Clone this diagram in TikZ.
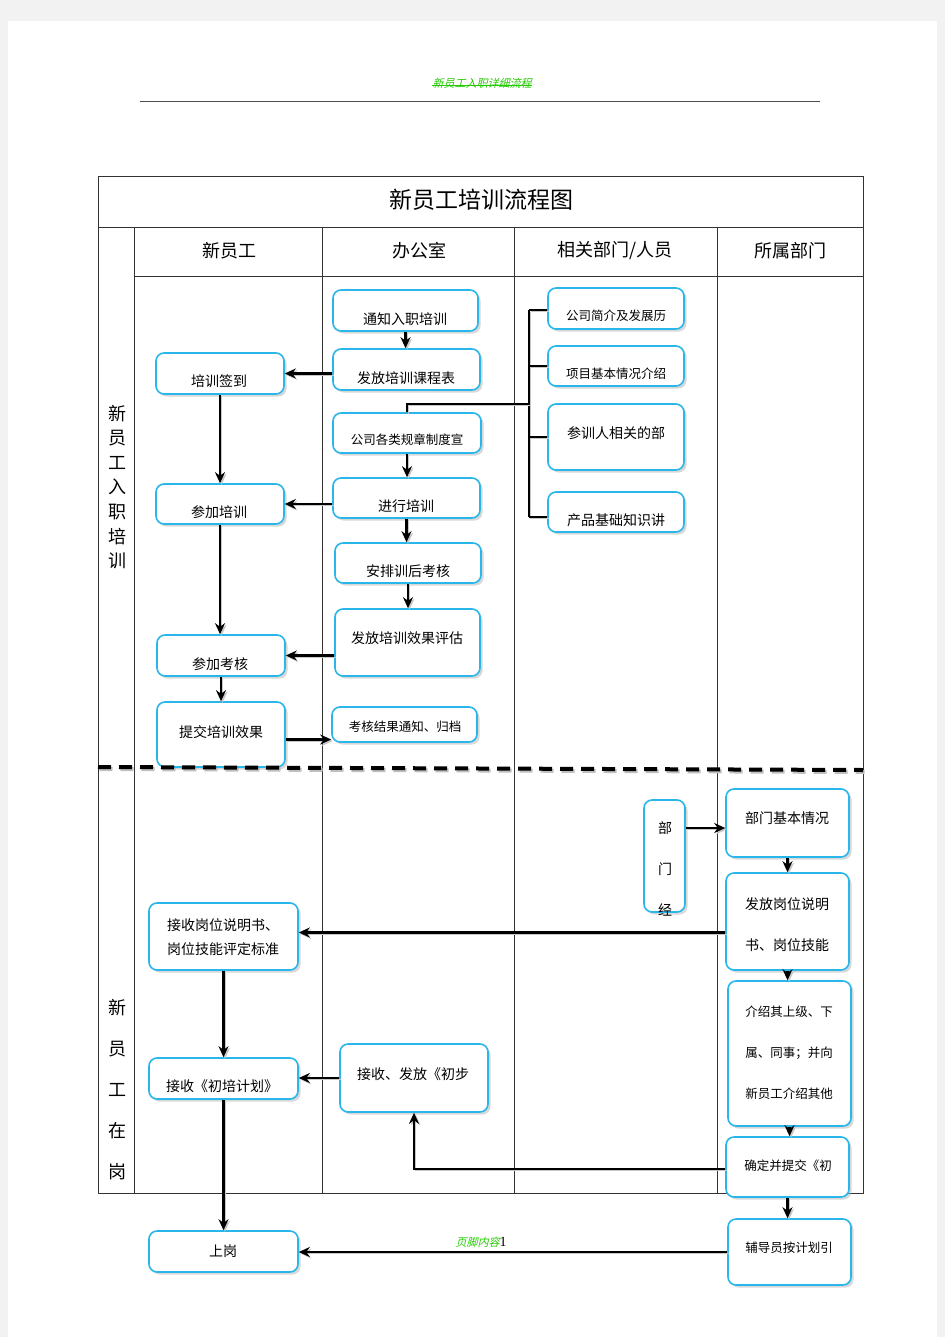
\documentclass[tikz,border=0pt]{standalone}
\usepackage{fontspec}
\setmainfont{Noto Sans CJK SC}
\newfontfamily\slantcjk[FakeSlant=0.25]{Noto Sans CJK SC}
\newfontfamily\serifnum{Liberation Serif}
\usetikzlibrary{shadows,arrows.meta,calc}
\definecolor{boxcyan}{HTML}{29B6EB}
\definecolor{hdrgreen}{HTML}{22CC00}
\begin{document}
\begin{tikzpicture}[x=1pt,y=-1pt,
  box/.style={draw=boxcyan, line width=1.6pt, rounded corners=8pt, fill=white,
    drop shadow={shadow xshift=2.5pt, shadow yshift=-2.5pt, fill=black!30},
    inner sep=0pt},
  txt/.style={font=\fontsize{14}{16}\selectfont, inner sep=0pt},
  stxt/.style={font=\fontsize{12.5}{14}\selectfont, inner sep=0pt},
  lshadow/.style={preaction={draw=black!22, transform canvas={xshift=1.5pt,yshift=-1.5pt}}},
  arr/.style={line width=2.8pt, -{Stealth[length=11pt,width=10pt]}, lshadow},
  conn/.style={line width=2.8pt, lshadow},
  grid/.style={draw=black!80, line width=0.9pt},
  head/.style={font=\fontsize{18}{20}\selectfont, inner sep=0pt}]
% page
\fill[black!5] (0,0) rectangle (945,1337);
\fill[white] (8,21) rectangle (937,1337);
\useasboundingbox (0,0) rectangle (945,1337);
% page header
\node[font=\fontsize{11}{12}\selectfont\slantcjk, text=hdrgreen, inner sep=0pt] (hdr) at (482,83) {新员工入职详细流程};
\draw[hdrgreen, line width=0.8pt] ($(hdr.west)+(0,2)$) -- ($(hdr.east)+(0,2)$);
\draw[black!70, line width=0.8pt] (140,101) -- (820,101);
% table
\draw[grid] (98,176) rectangle (863,1193);
\draw[grid] (98,227) -- (863,227);
\draw[grid] (134,276) -- (863,276);
\draw[grid] (134,227) -- (134,1193);
\draw[grid] (322,227) -- (322,1193);
\draw[grid] (514,227) -- (514,1193);
\draw[grid] (717,227) -- (717,1193);
\node[font=\fontsize{23}{25}\selectfont, inner sep=0pt] (title) at (481,200) {新员工培训流程图};
\node[head] (h1) at (229,251) {新员工};
\node[head] (h2) at (419,251) {办公室};
\node[head] (h3) at (615,251) {相关部门/人员};
\node[head] (h4) at (790,251) {所属部门};
\node[font=\fontsize{18}{24.6}\selectfont, align=center, inner sep=0pt] (lab1) at (117,487) {新\\员\\工\\入\\职\\培\\训};
\node[font=\fontsize{18}{41}\selectfont, align=center, inner sep=0pt] (lab2) at (117,1090) {新\\员\\工\\在\\岗};
% separator shadow
\draw[line width=4pt, dash pattern=on 13pt off 8pt, draw=black!25, transform canvas={xshift=1.5pt,yshift=-2pt}] (98,767) -- (863,770);
% office boxes
\node[box, minimum width=145pt, minimum height=41pt] (o1) at (405.5,310.5) {};
\node[txt] (to1) at (405,319) {通知入职培训};
\node[box, minimum width=147pt, minimum height=41pt] (o2) at (406.5,369.5) {};
\node[txt] (to2) at (406,378) {发放培训课程表};
\node[box, minimum width=148pt, minimum height=40pt] (o3) at (407,433) {};
\node[stxt] (to3) at (407,440) {公司各类规章制度宣};
\node[box, minimum width=147pt, minimum height=40pt] (o4) at (406.5,498) {};
\node[txt] (to4) at (406,506) {进行培训};
\node[box, minimum width=146pt, minimum height=40pt] (o5) at (408,563) {};
\node[txt] (to5) at (408,571) {安排训后考核};
\node[box, minimum width=145pt, minimum height=67pt] (o6) at (407.5,642.5) {};
\node[txt] (to6) at (407,638) {发放培训效果评估};
\node[box, minimum width=145pt, minimum height=35pt] (o7) at (404.5,724.5) {};
\node[stxt] (to7) at (405,727) {考核结果通知、归档};
% related dept boxes
\node[box, minimum width=136pt, minimum height=41pt] (r1) at (616,308.5) {};
\node[stxt] (tr1) at (616,316) {公司简介及发展历};
\node[box, minimum width=136pt, minimum height=40pt] (r2) at (616,366) {};
\node[stxt] (tr2) at (616,374) {项目基本情况介绍};
\node[box, minimum width=136pt, minimum height=66pt] (r3) at (616,437) {};
\node[txt] (tr3) at (616,433) {参训人相关的部};
\node[box, minimum width=136pt, minimum height=40pt] (r4) at (616,512) {};
\node[txt] (tr4) at (616,520) {产品基础知识讲};
% new employee boxes
\node[box, minimum width=128pt, minimum height=41pt] (n1) at (220,373.5) {};
\node[txt] (tn1) at (219,381) {培训签到};
\node[box, minimum width=128pt, minimum height=40pt] (n2) at (220,504) {};
\node[txt] (tn2) at (219,512) {参加培训};
\node[box, minimum width=128pt, minimum height=41pt] (n3) at (221,655.5) {};
\node[txt] (tn3) at (220,664) {参加考核};
\node[box, minimum width=128pt, minimum height=65pt] (n4) at (221,734.5) {};
\node[txt] (tn4) at (221,732) {提交培训效果};
% separator on top
\draw[line width=4pt, dash pattern=on 13pt off 8pt] (98,767) -- (863,770);
% bottom: department boxes
\node[box, minimum width=41pt, minimum height=112pt] (d0) at (664.5,856) {};
\node[font=\fontsize{14}{41}\selectfont, align=center, inner sep=0pt] (td0) at (665,869) {部\\门\\经};
\node[box, minimum width=123pt, minimum height=68pt] (d1) at (787.5,823) {};
\node[txt] (td1) at (787,818) {部门基本情况};
\node[box, minimum width=123pt, minimum height=97pt] (d2) at (787.5,921.5) {};
\node[font=\fontsize{14}{41}\selectfont, align=left, inner sep=0pt] (td2) at (787,925) {发放岗位说明\\书、岗位技能};
\node[box, minimum width=123pt, minimum height=145pt] (d3) at (789.5,1053.5) {};
\node[font=\fontsize{12.5}{41}\selectfont, align=left, inner sep=0pt] (td3) at (789,1053) {介绍其上级、下\\属、同事；并向\\新员工介绍其他};
\node[box, minimum width=123pt, minimum height=60pt] (d4) at (787.5,1167) {};
\node[stxt] (td4) at (788,1166) {确定并提交《初};
\node[box, minimum width=123pt, minimum height=66pt] (d5) at (789.5,1252) {};
\node[stxt] (td5) at (789,1248) {辅导员按计划引};
% bottom: employee & office boxes
\node[box, minimum width=149pt, minimum height=67pt] (e1) at (223.5,936.5) {};
\node[font=\fontsize{14}{24}\selectfont, align=left, inner sep=0pt] (te1) at (223,937) {接收岗位说明书、\\岗位技能评定标准};
\node[box, minimum width=149pt, minimum height=41pt] (e2) at (223.5,1078.5) {};
\node[txt] (te2) at (222,1086) {接收《初培计划》};
\node[box, minimum width=148pt, minimum height=68pt] (f1) at (414,1078) {};
\node[txt] (tf1) at (413,1074) {接收、发放《初步};
\node[box, minimum width=149pt, minimum height=41pt] (e3) at (223.5,1251.5) {};
\node[txt] (te3) at (223,1251) {上岗};
% footer
\node[font=\fontsize{11}{12}\selectfont, inner sep=0pt] (ftr) at (481,1242) {{\slantcjk\color{hdrgreen}页脚内容}{\serifnum\fontsize{14}{14}\selectfont 1}};
% helper coordinates
\coordinate (brT) at (529,310);
\coordinate (brM) at (529,404);
\coordinate (brB) at (529,517);
\coordinate (a1) at ($(n4.east)+(0,5)$);
\coordinate (a2) at ($(d1.west)+(0,5)$);
\coordinate (a3) at ($(e1.east)+(0,-4)$);
\coordinate (a4) at ($(d4.west)+(0,2)$);
% connectors top
\draw[arr] (o1.south) -- (o1.south |- o2.north);
\draw[arr] (o2.west |- n1.east) -- (n1.east);
\draw[conn] (brT) -- (brB);
\draw[conn] (brT) -- (brT -| r1.west);
\draw[conn] (brT |- r2.west) -- (r2.west);
\draw[conn] (brT |- r3.west) -- (r3.west);
\draw[conn] (brB) -- (brB -| r4.west);
\draw[conn] (o3.north) |- (brM);
\draw[arr] (o3.south) -- (o3.south |- o4.north);
\draw[arr] (o4.west |- n2.east) -- (n2.east);
\draw[arr] (o4.south) -- (o4.south |- o5.north);
\draw[arr] (o5.south) -- (o5.south |- o6.north);
\draw[arr] (o6.west |- n3.east) -- (n3.east);
\draw[arr] (n1.south) -- (n1.south |- n2.north);
\draw[arr] (n2.south) -- (n2.south |- n3.north);
\draw[arr] (n3.south) -- (n3.south |- n4.north);
\draw[arr] (a1) -- (a1 -| o7.west);
% connectors bottom
\draw[arr] (a2 -| d0.east) -- (a2);
\draw[arr] (d1.south) -- (d1.south |- d2.north);
\draw[arr] (a3 -| d2.west) -- (a3);
\draw[arr] (d2.south) -- (d2.south |- d3.north);
\draw[arr] (d3.south) -- (d3.south |- d4.north);
\draw[arr] (d4.south) -- (d4.south |- d5.north);
\draw[arr] (a4) -| (f1.south);
\draw[arr] (f1.west) -- (f1.west -| e2.east);
\draw[arr] (e1.south) -- (e1.south |- e2.north);
\draw[arr] (e2.south) -- (e2.south |- e3.north);
\draw[arr] (d5.west) -- (d5.west -| e3.east);
\end{tikzpicture}
\end{document}
